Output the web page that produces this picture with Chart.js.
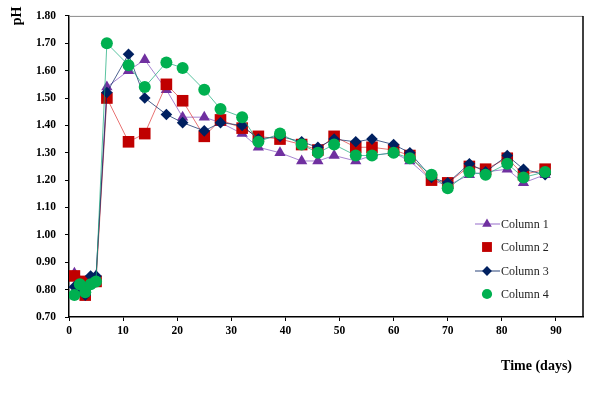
<!DOCTYPE html>
<html>
<head>
<meta charset="utf-8">
<script src="https://cdn.jsdelivr.net/npm/chart.js@4/dist/chart.umd.min.js"></script>
<style>
  html, body { margin: 0; padding: 0; background: #fff; }
  #wrap { width: 603px; height: 398px; }
</style>
</head>
<body>
<div id="wrap"><canvas id="c" width="603" height="398"></canvas></div>
<script>
const days = [1, 2, 3, 4, 5, 7, 11, 14, 18, 21, 25, 28, 32, 35, 39, 43, 46, 49, 53, 56, 60, 63, 67, 70, 74, 77, 81, 84, 88];
const column1 = [0.86, 0.83, 0.79, 0.84, 0.85, 1.54, 1.60, 1.64, 1.53, 1.43, 1.43, 1.41, 1.37, 1.32, 1.30, 1.27, 1.27, 1.29, 1.27, 1.29, 1.30, 1.27, 1.20, 1.18, 1.22, 1.23, 1.24, 1.19, 1.22];
const column2 = [0.85, 0.83, 0.78, 0.83, 0.83, 1.50, 1.34, 1.37, 1.55, 1.49, 1.36, 1.42, 1.39, 1.36, 1.35, 1.33, 1.31, 1.36, 1.32, 1.32, 1.31, 1.29, 1.20, 1.19, 1.25, 1.24, 1.28, 1.22, 1.24];
const column3 = [0.81, 0.80, 0.78, 0.85, 0.85, 1.52, 1.66, 1.50, 1.44, 1.41, 1.38, 1.41, 1.40, 1.35, 1.36, 1.34, 1.32, 1.35, 1.34, 1.35, 1.33, 1.30, 1.21, 1.19, 1.26, 1.23, 1.29, 1.24, 1.22];
const column4 = [0.78, 0.82, 0.79, 0.82, 0.83, 1.70, 1.62, 1.54, 1.63, 1.61, 1.53, 1.46, 1.43, 1.34, 1.37, 1.33, 1.30, 1.33, 1.29, 1.29, 1.30, 1.28, 1.22, 1.17, 1.23, 1.22, 1.26, 1.21, 1.23];
const seriesNames = ['Column 1', 'Column 2', 'Column 3', 'Column 4'];
const xTicks = [0, 10, 20, 30, 40, 50, 60, 70, 80, 90];
const yTicks = [0.70, 0.80, 0.90, 1.00, 1.10, 1.20, 1.30, 1.40, 1.50, 1.60, 1.70, 1.80];

const toPts = arr => days.map((d, i) => ({ x: d, y: arr[i] }));

const styles = [
  { point: 'triangle', radius: 6.5, color: '#7030A0', line: 'rgba(130,80,190,0.7)', legendLine: true },
  { point: 'rect', radius: 8.2, color: '#C00000', line: 'rgba(220,40,40,0.65)', legendLine: false },
  { point: 'rectRot', radius: 5.8, color: '#002060', line: 'rgba(0,32,96,0.7)', legendLine: true },
  { point: 'circle', radius: 6, color: '#00B050', line: 'rgba(20,170,120,0.7)', legendLine: false }
];
const allData = [column1, column2, column3, column4];

const datasets = allData.map((arr, i) => ({
  label: seriesNames[i],
  data: toPts(arr),
  borderColor: styles[i].line,
  borderWidth: 1,
  backgroundColor: styles[i].color,
  pointStyle: styles[i].point,
  pointRadius: styles[i].radius,
  pointBackgroundColor: styles[i].color,
  pointBorderColor: styles[i].color,
  pointBorderWidth: 0,
  tension: 0,
  order: 4 - i
}));

const decor = {
  id: 'decor',
  afterDraw(chart) {
    const ctx = chart.ctx;
    const a = chart.chartArea;
    ctx.save();
    ctx.strokeStyle = '#8a8a8a';
    ctx.lineWidth = 1;
    ctx.beginPath();
    ctx.moveTo(a.left, a.top + 0.5);
    ctx.lineTo(a.right, a.top + 0.5);
    ctx.stroke();
    ctx.strokeStyle = '#000';
    ctx.lineWidth = 1.5;
    ctx.beginPath();
    ctx.moveTo(a.right, a.top);
    ctx.lineTo(a.right, a.bottom);
    ctx.stroke();

    ctx.fillStyle = '#000';
    ctx.font = 'bold 14px "Liberation Serif", "Times New Roman", serif';
    ctx.textAlign = 'right';
    ctx.textBaseline = 'middle';
    ctx.fillText('Time (days)', 572, 366);
    ctx.save();
    ctx.translate(17, 16);
    ctx.rotate(-Math.PI / 2);
    ctx.textAlign = 'center';
    ctx.fillText('pH', 0, 0);
    ctx.restore();

    const rows = [224, 247, 271, 294];
    ctx.font = '12px "Liberation Serif", "Times New Roman", serif';
    ctx.textAlign = 'left';
    ctx.textBaseline = 'middle';
    styles.forEach((s, i) => {
      const y = rows[i];
      if (s.legendLine) {
        ctx.strokeStyle = s.line;
        ctx.lineWidth = 1.2;
        ctx.beginPath();
        ctx.moveTo(475, y);
        ctx.lineTo(500, y);
        ctx.stroke();
      }
      ctx.fillStyle = s.color;
      ctx.strokeStyle = s.color;
      Chart.helpers.drawPoint(ctx, { pointStyle: s.point, radius: s.radius * 0.85, rotation: 0, borderWidth: 0 }, 487, y);
      ctx.fillStyle = '#222';
      ctx.fillText(seriesNames[i], 501, y + 0.5);
    });
    ctx.restore();
  }
};

new Chart(document.getElementById('c'), {
  type: 'line',
  data: { datasets },
  options: {
    responsive: false,
    animation: false,
    devicePixelRatio: 1,
    layout: { padding: { top: 8, right: 20, bottom: 0, left: 0 } },
    plugins: { legend: { display: false }, tooltip: { enabled: false } },
    scales: {
      x: {
        type: 'linear',
        min: 0,
        max: 95,
        afterBuildTicks: s => { s.ticks = xTicks.map(v => ({ value: v })); },
        afterFit: s => { s.height = 81; },
        border: { color: '#000', width: 1.5 },
        grid: { drawOnChartArea: false, color: '#000', tickLength: 4, lineWidth: 1 },
        ticks: {
          color: '#000',
          padding: 3,
          maxRotation: 0,
          font: { family: '"Liberation Serif", "Times New Roman", serif', size: 11.5, weight: 'bold' }
        }
      },
      y: {
        type: 'linear',
        min: 0.7,
        max: 1.8,
        afterBuildTicks: s => { s.ticks = yTicks.map(v => ({ value: v })); },
        afterFit: s => { s.width = 69; },
        border: { color: '#000', width: 1.5 },
        grid: { drawOnChartArea: false, color: '#000', tickLength: 4, lineWidth: 1 },
        ticks: {
          color: '#000',
          padding: 9,
          callback: v => Number(v).toFixed(2),
          font: { family: '"Liberation Serif", "Times New Roman", serif', size: 11.5, weight: 'bold' }
        }
      }
    }
  },
  plugins: [decor]
});
</script>
</body>
</html>
